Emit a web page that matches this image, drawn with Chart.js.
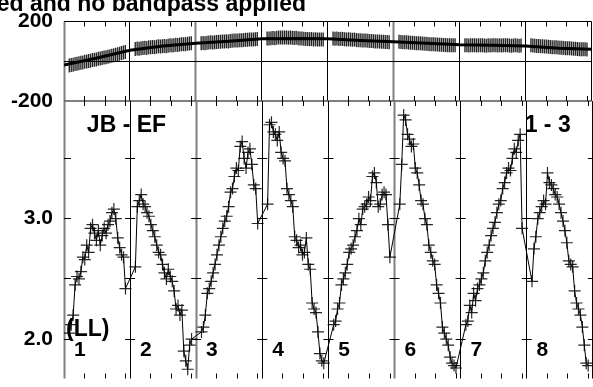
<!DOCTYPE html>
<html>
<head>
<meta charset="utf-8">
<script src="https://cdn.jsdelivr.net/npm/chart.js@4.4.1/dist/chart.umd.min.js"></script>
<style>
    html, body { margin: 0; padding: 0; background: #fff; overflow: hidden; }
    #wrap { position: relative; width: 593px; height: 387px; overflow: hidden; }
    canvas { position: absolute; left: 0; top: 0; }
</style>
</head>
<body>
<div id="wrap">
    <canvas id="chart-phase" width="600" height="400"></canvas>
    <canvas id="chart-amp" width="600" height="400"></canvas>
</div>
<script>
// Texts
const TITLE = 'Calibrated and no bandpass applied';
const SCAN_LABELS = ['1', '2', '3', '4', '5', '6', '7', '8'];
const NOTES = [
    { text: 'JB - EF', x: 0.346, y: 3.776 },
    { text: '1 - 3', x: 6.969, y: 3.776 },
    { text: '(LL)', x: 0.03, y: 2.075 }
];

// Amplitude per scan (bottom panel)
const amp1 = [2.05, 2.12, 2.2, 2.45, 2.52, 2.5, 2.56, 2.68, 2.66, 2.78, 2.72, 2.92, 2.95, 2.88, 2.82, 2.9, 2.78, 2.86, 2.92, 2.88, 2.95, 2.98, 3.05, 3.08, 3.0, 2.84, 2.76, 2.7, 2.68, 2.42];
const amp2 = [2.6, 3.1, 3.15, 3.2, 3.12, 3.1, 3.05, 3.02, 2.95, 2.9, 2.85, 2.78, 2.72, 2.7, 2.62, 2.55, 2.5, 2.58, 2.52, 2.48, 2.4, 2.25, 2.28, 2.2, 2.24, 1.9, 1.82, 1.75, 1.95, 2.0];
const amp3 = [2.06, 2.1, 2.2, 2.38, 2.42, 2.48, 2.55, 2.62, 2.7, 2.78, 2.85, 2.92, 2.98, 3.02, 3.1, 3.22, 3.25, 3.35, 3.42, 3.4, 3.6, 3.64, 3.5, 3.42, 3.55, 3.58, 3.45, 3.28, 3.25, 2.96];
const amp4 = [3.12, 3.78, 3.8, 3.72, 3.7, 3.65, 3.72, 3.55, 3.5, 3.48, 3.25, 3.2, 3.15, 3.1, 2.85, 2.82, 2.76, 2.78, 2.7, 2.72, 2.84, 2.62, 2.58, 2.3, 2.25, 2.22, 2.06, 1.88, 1.82, 1.8];
const amp5 = [2.12, 2.15, 2.25, 2.3, 2.45, 2.5, 2.55, 2.62, 2.72, 2.75, 2.78, 2.85, 2.9, 3.0, 2.95, 3.08, 3.1, 3.12, 3.18, 3.15, 3.35, 3.38, 3.3, 3.1, 3.12, 3.2, 3.22, 3.2, 2.95, 2.68];
const amp6 = [3.12, 3.45, 3.86, 3.82, 3.7, 3.66, 3.6, 3.62, 3.42, 3.38, 3.28, 3.15, 3.12, 3.0, 2.95, 2.78, 2.72, 2.65, 2.62, 2.45, 2.38, 2.3, 2.1, 2.05, 2.0, 1.95, 1.85, 1.8, 1.78, 1.76];
const amp7 = [2.12, 2.15, 2.28, 2.22, 2.38, 2.32, 2.42, 2.45, 2.5, 2.55, 2.65, 2.72, 2.78, 2.86, 2.92, 2.97, 3.05, 3.12, 3.15, 3.25, 3.3, 3.38, 3.42, 3.4, 3.5, 3.58, 3.55, 3.65, 3.7, 2.92];
const amp8 = [2.48, 2.75, 2.85, 3.0, 3.05, 3.1, 3.15, 3.12, 3.38, 3.3, 3.28, 3.25, 3.2, 3.18, 3.12, 3.05, 2.98, 2.9, 2.8, 2.65, 2.62, 2.6, 2.4, 2.3, 2.25, 2.2, 2.1, 1.95, 1.8, 1.78];

// Phase per scan (top panel, degrees)
const phase1 = [-22, -19, -18, -14, -12, -10, -8, -6, -3, -1, 1, 3, 6, 8, 9, 12, 14, 16, 19, 20, 23, 25, 28, 30, 33, 35, 38, 41, 44, 47];
const phase2 = [62, 64, 63, 66, 67, 68, 67, 70, 71, 72, 71, 73, 75, 74, 76, 77, 76, 78, 80, 79, 81, 83, 82, 84, 85, 86, 86, 88, 89, 90];
const phase3 = [90, 92, 91, 93, 94, 95, 94, 96, 97, 98, 98, 99, 100, 101, 100, 102, 103, 104, 104, 105, 106, 106, 107, 108, 108, 109, 110, 110, 111, 112];
const phase4 = [114, 115, 116, 117, 116, 118, 119, 119, 120, 119, 120, 118, 119, 118, 117, 118, 116, 115, 114, 113, 112, 112, 111, 112, 110, 111, 110, 109, 110, 109];
const phase5 = [114, 113, 114, 112, 113, 112, 111, 110, 111, 109, 108, 109, 107, 106, 106, 105, 104, 104, 103, 102, 102, 101, 100, 100, 99, 98, 98, 97, 97, 96];
const phase6 = [98, 97, 96, 96, 95, 94, 93, 93, 92, 91, 90, 90, 89, 88, 88, 87, 86, 86, 85, 84, 84, 83, 83, 82, 82, 81, 81, 80, 80, 80];
const phase7 = [80, 81, 79, 80, 81, 80, 79, 80, 81, 80, 79, 78, 80, 79, 80, 81, 80, 79, 80, 79, 80, 81, 80, 79, 78, 79, 80, 79, 78, 79];
const phase8 = [80, 79, 78, 77, 77, 76, 75, 74, 74, 73, 72, 71, 71, 70, 69, 68, 68, 67, 66, 65, 65, 64, 63, 63, 62, 61, 61, 60, 60, 59];

// Smooth phase model (thick line)
const phaseModelX = [0, 0.5, 1, 1.5, 2, 2.5, 3, 3.5, 4, 4.5, 5, 5.5, 6, 6.5, 7, 7.5, 8];
const phaseModel = [-19, 16, 55, 77, 90, 101, 113, 115, 113, 105, 98, 90, 83, 80, 77, 65, 60];

// Axes
const phaseTicks = [-200, 200];
const ampTicks = [2.0, 3.0];
const ampMinorTicks = [2.0, 2.5, 3.0, 3.5];
const xTickOffsets = [0.311, 0.622, 0.933];

const ampScans = [amp1, amp2, amp3, amp4, amp5, amp6, amp7, amp8];
const phaseScans = [phase1, phase2, phase3, phase4, phase5, phase6, phase7, phase8];

// Scan i sits in [i, i+1] on the x scale
function toPoints(scans) {
    const pts = [];
    scans.forEach((vals, s) => {
        vals.forEach((v, i) => {
            pts.push({ x: s + 0.08 + i * 0.85 / (vals.length - 1), y: v });
        });
    });
    return pts;
}

Chart.defaults.font.family = '"Liberation Sans", Arial, Helvetica, sans-serif';
Chart.defaults.color = '#000';

const crisp = v => Math.floor(v) + 0.5;
const greyEdges = [0, 2, 5];

function drawEdges(ctx, chart) {
    const a = chart.chartArea;
    const x = chart.scales.x;
    for (let k = 0; k <= SCAN_LABELS.length; k++) {
        const px = crisp(x.getPixelForValue(k));
        ctx.beginPath();
        ctx.lineWidth = greyEdges.includes(k) ? 2 : 1;
        ctx.strokeStyle = greyEdges.includes(k) ? '#808080' : '#000';
        ctx.moveTo(px, a.top);
        ctx.lineTo(px, a.bottom);
        ctx.stroke();
    }
}

function drawXTicks(ctx, chart) {
    const a = chart.chartArea;
    const x = chart.scales.x;
    ctx.lineWidth = 1;
    ctx.strokeStyle = '#000';
    ctx.beginPath();
    for (let s = 0; s < SCAN_LABELS.length; s++) {
        xTickOffsets.forEach(off => {
            const px = crisp(x.getPixelForValue(s + off));
            ctx.moveTo(px, a.top);
            ctx.lineTo(px, a.top + 5);
            ctx.moveTo(px, a.bottom);
            ctx.lineTo(px, a.bottom - 5);
        });
    }
    ctx.stroke();
}

const phaseFrame = {
    id: 'phaseFrame',
    beforeDatasetsDraw(chart) {
        const { ctx, chartArea: a, scales: { y } } = chart;
        ctx.save();
        drawEdges(ctx, chart);
        ctx.lineWidth = 1;
        ctx.strokeStyle = '#000';
        ctx.beginPath();
        [a.top, y.getPixelForValue(0)].forEach(py => {
            ctx.moveTo(a.left, crisp(py));
            ctx.lineTo(a.right, crisp(py));
        });
        ctx.stroke();
        ctx.lineWidth = 1.5;
        ctx.strokeStyle = '#555';
        ctx.beginPath();
        ctx.moveTo(a.left, a.bottom);
        ctx.lineTo(a.right, a.bottom);
        ctx.stroke();
        drawXTicks(ctx, chart);
        ctx.restore();
    },
    afterDraw(chart) {
        const ctx = chart.ctx;
        ctx.save();
        ctx.fillStyle = '#000';
        ctx.font = 'bold 23px "Liberation Sans", Arial, sans-serif';
        ctx.textAlign = 'right';
        ctx.textBaseline = 'alphabetic';
        ctx.fillText(TITLE, 306, 11);
        ctx.restore();
    }
};

const ampFrame = {
    id: 'ampFrame',
    beforeDatasetsDraw(chart) {
        const { ctx, chartArea: a, scales: { x, y } } = chart;
        ctx.save();
        drawEdges(ctx, chart);
        drawXTicks(ctx, chart);
        // y ticks on every scan edge
        ctx.lineWidth = 1;
        ctx.strokeStyle = '#000';
        ctx.beginPath();
        for (let k = 0; k <= SCAN_LABELS.length; k++) {
            const px = x.getPixelForValue(k);
            ampMinorTicks.forEach(v => {
                const py = crisp(y.getPixelForValue(v));
                ctx.moveTo(k === 0 ? px : px - 5, py);
                ctx.lineTo(k === SCAN_LABELS.length ? px : px + (k === 0 ? 7 : 5), py);
            });
        }
        ctx.stroke();
        ctx.restore();
    },
    afterDraw(chart) {
        const { ctx, scales: { x, y } } = chart;
        ctx.save();
        ctx.fillStyle = '#000';
        ctx.textAlign = 'left';
        ctx.textBaseline = 'middle';
        ctx.font = 'bold 23px "Liberation Sans", Arial, sans-serif';
        NOTES.forEach(n => {
            ctx.fillText(n.text, x.getPixelForValue(n.x), y.getPixelForValue(n.y));
        });
        ctx.font = 'bold 21px "Liberation Sans", Arial, sans-serif';
        SCAN_LABELS.forEach((lab, s) => {
            ctx.fillText(lab, x.getPixelForValue(s + 0.15), y.getPixelForValue(1.906));
        });
        ctx.restore();
    }
};

function yAxis(min, max, ticks, fmt) {
    return {
        min: min,
        max: max,
        afterFit: s => { s.width = 64; },
        afterBuildTicks: s => { s.ticks = ticks.map(v => ({ value: v })); },
        grid: { display: false, drawTicks: false },
        border: { display: false },
        ticks: {
            color: '#000',
            padding: 11,
            font: { size: 21, weight: 'bold', lineHeight: 1 },
            callback: fmt
        }
    };
}

const xAxis = { type: 'linear', min: 0, max: 8, display: false };

const commonOptions = {
    responsive: false,
    animation: false,
    events: [],
    plugins: { legend: { display: false }, tooltip: { enabled: false } }
};

// Phase chart (top)
new Chart(document.getElementById('chart-phase'), {
    type: 'scatter',
    data: {
        datasets: [{
            data: phaseModelX.map((v, i) => ({ x: v, y: phaseModel[i] })),
            showLine: true,
            borderColor: '#000',
            borderWidth: 3,
            pointRadius: 0
        }, {
            data: toPoints(phaseScans),
            showLine: false,
            pointStyle: 'line',
            pointRotation: 90,
            pointRadius: 7,
            pointBorderWidth: 1.4,
            pointBorderColor: 'rgba(0, 0, 0, 0.85)'
        }]
    },
    options: {
        ...commonOptions,
        layout: { padding: { left: 0, top: 20, right: 4.5, bottom: 299 } },
        scales: {
            x: xAxis,
            y: yAxis(-200, 200, phaseTicks, v => String(v))
        }
    },
    plugins: [phaseFrame]
});

// Amplitude chart (bottom)
new Chart(document.getElementById('chart-amp'), {
    type: 'scatter',
    data: {
        datasets: [{
            data: toPoints(ampScans),
            showLine: true,
            tension: 0,
            borderColor: '#000',
            borderWidth: 1,
            pointStyle: 'cross',
            pointRadius: 6,
            pointBorderWidth: 1.2,
            pointBorderColor: 'rgba(0, 0, 0, 0.85)'
        }]
    },
    options: {
        ...commonOptions,
        layout: { padding: { left: 0, top: 101, right: 4.5, bottom: 12 } },
        scales: {
            x: xAxis,
            y: yAxis(1.673, 3.977, ampTicks, v => Number(v).toFixed(1))
        }
    },
    plugins: [ampFrame]
});
</script>
</body>
</html>
